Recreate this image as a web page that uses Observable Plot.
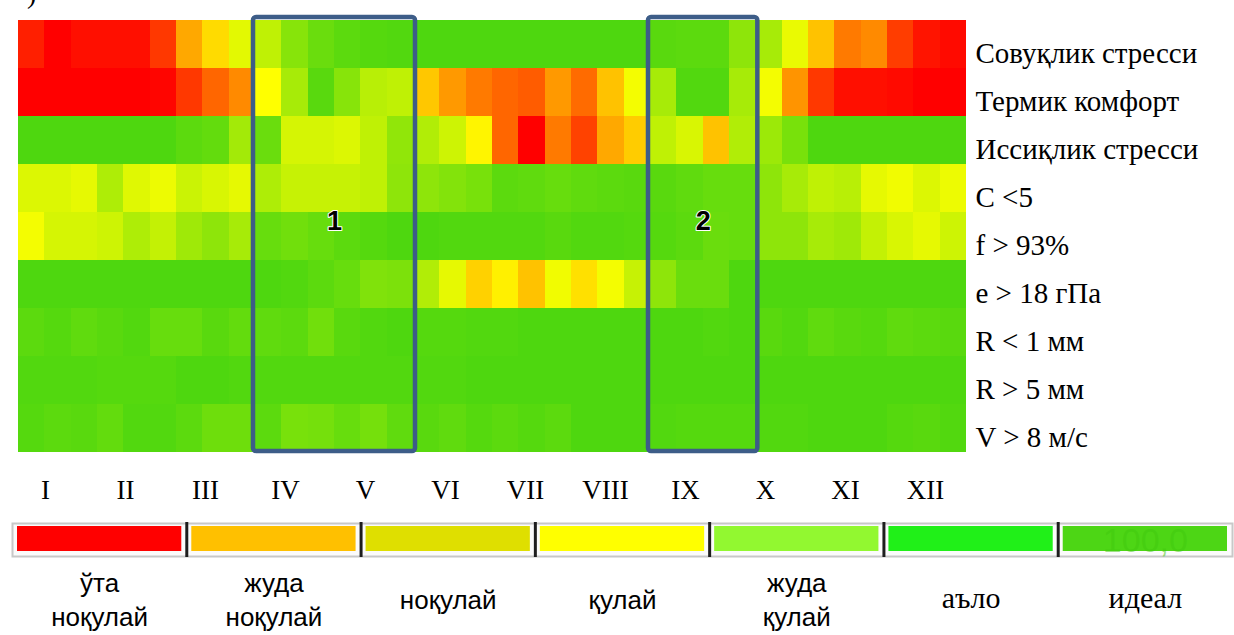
<!DOCTYPE html>
<html><head><meta charset="utf-8">
<script src="https://cdn.jsdelivr.net/npm/d3@7"></script>
<script src="https://cdn.jsdelivr.net/npm/@observablehq/plot@0.6"></script>
<style>
html,body{margin:0;padding:0;background:#fff;}
#wrap{position:relative;width:1234px;height:635px;overflow:hidden;}
#wrap svg{display:block;}
#corner{position:absolute;left:27px;top:-22px;font:28px "Liberation Serif",serif;color:#000;}
</style></head><body>
<div id="wrap"><div id="corner">)</div></div>
<script>
// Row (indicator) labels
const rows = ["Совуқлик стресси", "Термик комфорт", "Иссиқлик стресси", "C <5", "f > 93%", "e > 18 гПа", "R < 1 мм", "R > 5 мм", "V > 8 м/с"];
// Month tick labels (3 decades per month → 36 columns)
const months = ["I", "II", "III", "IV", "V", "VI", "VII", "VIII", "IX", "X", "XI", "XII"];

// Comfort index per decade (0 = red, 50 = yellow, 100 = ideal green)
const sovuqlik = [6,0,3,3,3,11,33,43,58,68,84,92,96,98,99,100,100,100,100,100,100,100,100,100,97,96,96,82,75,56,38,24,27,12,4,2];
const termik   = [0,0,0,0,0,1,11,20,27,50,75,97,84,70,68,39,30,24,20,18,30,21,38,53,75,99,99,75,53,29,11,3,3,2,0,0];
const issiqlik = [100,100,100,100,100,100,96,94,76,92,62,62,60,68,81,72,64,48,20,0,24,13,33,40,68,61,38,72,78,88,100,100,100,100,100,100];
const cLess5   = [60,60,57,73,59,55,65,61,57,73,66,66,66,68,82,82,85,88,96,95,93,95,96,97,97,95,93,93,82,75,68,70,57,54,60,55];
const f93      = [53,62,62,64,73,67,77,82,75,93,90,93,96,98,100,100,99,99,99,99,97,99,99,98,98,96,92,93,82,82,75,77,67,61,57,64];
const e18      = [100,100,100,100,100,100,100,100,100,100,99,96,93,86,87,72,57,41,47,38,54,44,53,66,82,92,92,100,100,100,100,100,100,100,100,100];
const rLess1   = [96,98,95,97,99,93,93,97,94,95,96,90,97,99,100,98,98,99,99,100,100,100,100,100,100,100,99,100,97,99,95,97,98,95,96,97];
const rMore5   = [99,99,99,98,98,98,100,100,99,99,99,99,99,99,99,99,99,100,100,100,100,100,100,100,100,100,100,100,100,100,100,100,100,100,100,100];
const v8       = [98,96,97,94,99,99,96,91,91,96,88,89,93,89,95,97,95,98,96,98,96,100,100,100,99,98,98,98,99,99,100,100,100,98,97,99];

// Highlighted periods (decade index start/end) and their labels
const boxStart = [9, 24];
const boxEnd = [15, 28];
const boxLabels = ["1", "2"];

// Legend categories
const legendLabels = ["ўта\nноқулай", "жуда\nноқулай", "ноқулай", "қулай", "жуда\nқулай", "аъло", "идеал"];
const legendColors = ["#ff0000", "#ffc000", "#dfdf00", "#ffff00", "#92f830", "#20f018", "#4dd615"];

const series = [sovuqlik, termik, issiqlik, cLess5, f93, e18, rLess1, rMore5, v8];
const cells = rows.flatMap((row, r) => series[r].map((v, c) => ({row, x1: c, x2: c + 1, value: v})));
const boxIdx = boxStart.map((_, i) => i);

const serif = "'Liberation Serif','Times New Roman',serif";
const wrap = document.getElementById("wrap");

const heat = Plot.plot({
  width: 1234, height: 470,
  marginTop: 16, marginBottom: 15, marginLeft: 18, marginRight: 268,
  style: {fontFamily: serif, fontSize: "28px", color: "#000", background: "transparent"},
  x: {domain: [0, 36], axis: null},
  y: {domain: rows, padding: 0, axis: null},
  color: {type: "linear", domain: [0, 50, 100], range: ["#ff0000", "#ffff00", "#4ed70f"], interpolate: "rgb"},
  marks: [
    Plot.barX(cells, {x1: "x1", x2: "x2", y: "row", fill: "value", shapeRendering: "crispEdges"}),
    Plot.rect(boxIdx, {x1: i => boxStart[i], x2: i => boxEnd[i], fill: "none", stroke: "#3d5d88", strokeWidth: 4.5, rx: 3, insetLeft: -2, insetRight: -2, insetTop: 1, insetBottom: 4}),
    Plot.text(boxIdx, {x: i => (boxStart[i] + boxEnd[i]) / 2, text: i => boxLabels[i], frameAnchor: "middle", dy: -15, fontSize: 27, fontWeight: "bold", fontFamily: "'Liberation Sans',Arial,sans-serif", fill: "#000", stroke: "#fff", strokeWidth: 2}),
    Plot.text(rows, {y: d => d, text: d => d, frameAnchor: "right", textAnchor: "start", dx: 9, dy: 9, fontSize: 29, fontFamily: serif, fill: "#000"})
  ]
});
wrap.appendChild(heat);

const monthPlot = Plot.plot({
  width: 1234, height: 40, margin: 0,
  style: {fontFamily: serif, fontSize: "27px", color: "#000", background: "transparent"},
  x: {type: "point", domain: months, range: [45, 925], padding: 0, axis: null},
  marks: [
    Plot.text(months, {x: d => d, frameAnchor: "middle", fontSize: 27, fill: "#000"})
  ]
});
wrap.appendChild(monthPlot);

const legIdx = legendLabels.map((_, i) => i);
const sansIdx = legIdx.filter(i => i < 5);
const serifIdx = legIdx.filter(i => i >= 5);
const legend = Plot.plot({
  width: 1234, height: 125,
  marginTop: 13, marginBottom: 79, marginLeft: 12, marginRight: 2,
  style: {fontFamily: serif, fontSize: "28px", color: "#000", background: "transparent"},
  x: {domain: [0, legendLabels.length], axis: null},
  color: {type: "identity"},
  marks: [
    Plot.frame({stroke: "#c8c8c8", strokeWidth: 2, fill: "#fbfbfb"}),
    Plot.rect(legIdx, {x1: i => i, x2: i => i + 1, fill: i => legendColors[i], insetLeft: 5, insetRight: 5, insetTop: 3, insetBottom: 5}),
    Plot.text([6], {x: i => i + 0.5, text: () => "100,0", frameAnchor: "middle", dy: 1, fontSize: 34, fontFamily: "'Liberation Sans',Arial,sans-serif", fill: "#3fc80e", fillOpacity: 0.5}),
    Plot.ruleX(legIdx.slice(1), {x: i => i, stroke: "#1e1e1e", strokeWidth: 3, insetTop: -1, insetBottom: -1}),
    Plot.text(sansIdx, {x: i => i + 0.5, text: i => legendLabels[i], frameAnchor: "bottom", dy: 42, lineAnchor: "middle", lineHeight: 1.3, fontSize: 26, fontFamily: "'Liberation Sans',Arial,sans-serif", fill: "#000"}),
    Plot.text(serifIdx, {x: i => i + 0.5, text: i => legendLabels[i], frameAnchor: "bottom", dy: 42, lineAnchor: "middle", fontSize: 30, fontFamily: serif, fill: "#000"})
  ]
});
wrap.appendChild(legend);
</script>
</body></html>
